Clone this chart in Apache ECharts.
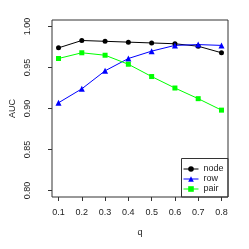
<!DOCTYPE html>
<html><head><meta charset="utf-8">
<script src="https://cdn.jsdelivr.net/npm/echarts@6/dist/echarts.min.js"></script>
<style>html,body{margin:0;padding:0;background:#fff}#c{width:249px;height:249px}</style>
</head><body><div id="c"></div>
<script>
const qValues = [0.1, 0.2, 0.3, 0.4, 0.5, 0.6, 0.7, 0.8];
const nodeAUC = [0.974, 0.983, 0.982, 0.981, 0.980, 0.979, 0.976, 0.968];
const rowAUC  = [0.907, 0.924, 0.946, 0.961, 0.970, 0.977, 0.978, 0.977];
const pairAUC = [0.961, 0.968, 0.965, 0.954, 0.939, 0.925, 0.912, 0.898];
const xTicks = [0.1, 0.2, 0.3, 0.4, 0.5, 0.6, 0.7, 0.8];
const yTicks = [0.80, 0.85, 0.90, 0.95, 1.00];

const font = 'Liberation Sans, Arial, sans-serif';
const fs = 9;
const axisCol = '#333';
function pairs(ys){ return qValues.map((q,i)=>[q, ys[i]]); }

const chart = echarts.init(document.getElementById('c'), null, {renderer:'canvas'});
chart.setOption({
  animation:false,
  backgroundColor:'#fff',
  grid:{left:41, right:21, top:20, bottom:52, show:true, borderColor:axisCol, borderWidth:1, backgroundColor:'transparent'},
  xAxis:{type:'value', min:0.072, max:0.828,
    name:'q', nameLocation:'middle', nameGap:31, nameMoveOverlap:false,
    nameTextStyle:{fontFamily:font, fontSize:fs, color:'#222'},
    axisLine:{show:false},
    splitLine:{show:false},
    axisTick:{show:true, length:4, lineStyle:{color:axisCol}, customValues:xTicks},
    axisLabel:{fontFamily:font, fontSize:fs, color:'#222', margin:11, customValues:xTicks,
      formatter:v=>v.toFixed(1)}
  },
  yAxis:{type:'value', min:0.792, max:1.008,
    name:'AUC', nameLocation:'middle', nameGap:35, nameRotate:90, nameMoveOverlap:false,
    nameTextStyle:{fontFamily:font, fontSize:fs, color:'#222'},
    axisLine:{show:false},
    splitLine:{show:false},
    axisTick:{show:true, length:4, lineStyle:{color:axisCol}, customValues:yTicks},
    axisLabel:{fontFamily:font, fontSize:fs, color:'#222', margin:20, rotate:90, customValues:yTicks,
      formatter:v=>v.toFixed(2)}
  },
  legend:{orient:'vertical', left:183, top:164, itemWidth:15, itemHeight:7, itemGap:0,
    padding:0, textStyle:{fontFamily:font, fontSize:fs, color:'#222', padding:[0,0,0,0], lineHeight:10},
    lineStyle:{width:1},
    data:['node','row','pair']},
  graphic:[{type:'rect', shape:{x:181.5, y:158.5, width:46.5, height:38.5},
    style:{fill:'#fff', stroke:axisCol, lineWidth:1}, z:-1, zlevel:0}],
  series:[
    {name:'node', type:'line', data:pairs(nodeAUC), symbol:'circle', symbolSize:5,
      itemStyle:{color:'#000'}, lineStyle:{color:'#000', width:1}},
    {name:'row', type:'line', data:pairs(rowAUC), symbol:'triangle', symbolSize:6,
      itemStyle:{color:'#0000ff'}, lineStyle:{color:'#0000ff', width:1}},
    {name:'pair', type:'line', data:pairs(pairAUC), symbol:'rect', symbolSize:5,
      itemStyle:{color:'#00ff00'}, lineStyle:{color:'#00ff00', width:1}}
  ]
});
</script></body></html>
